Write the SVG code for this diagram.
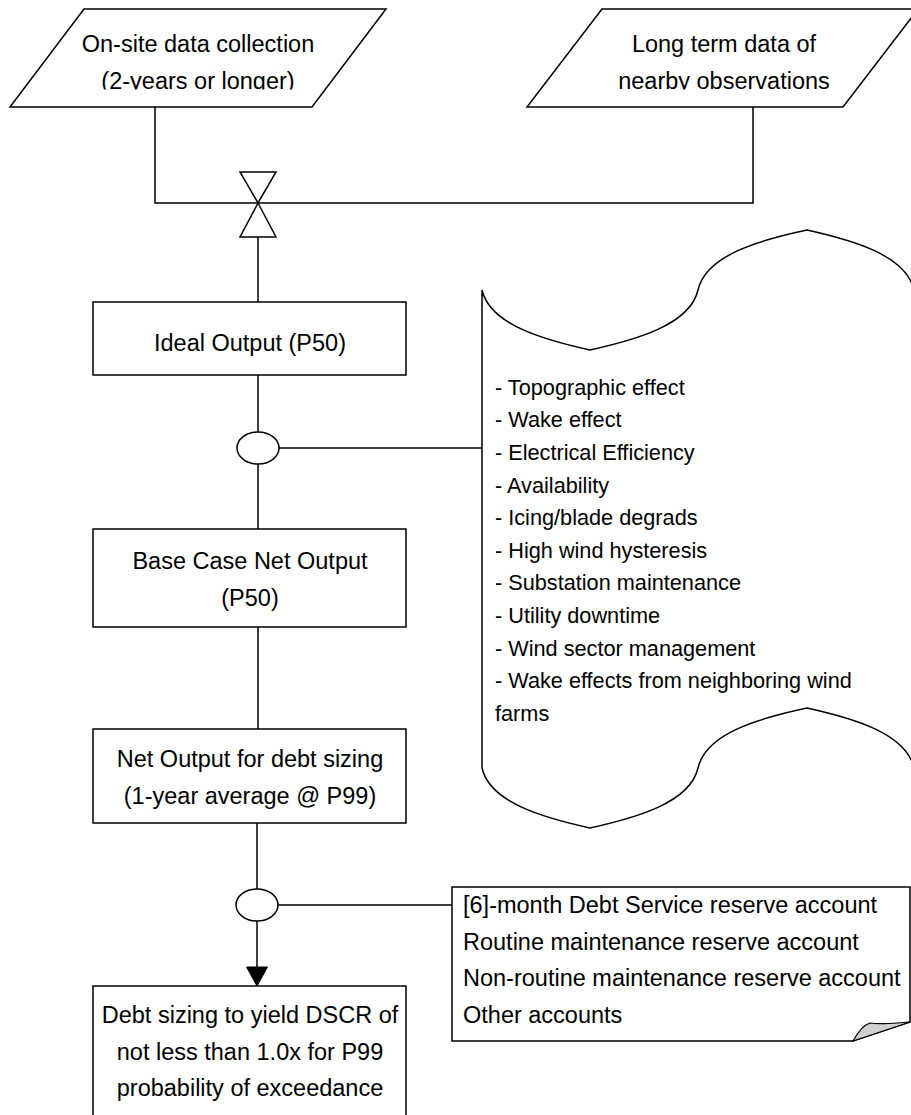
<svg xmlns="http://www.w3.org/2000/svg" width="911" height="1115" viewBox="0 0 911 1115">
<style>
.s{fill:#fff;stroke:#000;stroke-width:1.5}
.c{fill:none;stroke:#000;stroke-width:1.5}
.t{font-family:"Liberation Sans",Arial,sans-serif;font-size:23.5px;fill:#000}
.m{text-anchor:middle}
.l{font-family:"Liberation Sans",Arial,sans-serif;font-size:21.7px;fill:#000}
</style>
<defs>
<clipPath id="clipTop"><rect x="0" y="0" width="911" height="89.5"/></clipPath>
</defs>
<g id="connectors">
<polyline class="c" points="155,107 155,203 753,203 753,107"/>
<line class="c" x1="258" y1="237" x2="258" y2="302"/>
<line class="c" x1="258" y1="375" x2="258" y2="432"/>
<line class="c" x1="279" y1="448" x2="482" y2="448"/>
<line class="c" x1="258" y1="464" x2="258" y2="529"/>
<line class="c" x1="258" y1="627" x2="258" y2="729"/>
<line class="c" x1="257" y1="823" x2="257" y2="889"/>
<line class="c" x1="278" y1="905" x2="452" y2="905"/>
<line class="c" x1="257" y1="921" x2="257" y2="968"/>
<polygon points="246.5,967 267.5,967 257,986" fill="#000" stroke="#000" stroke-width="1"/>
</g>
<g id="onsite">
<polygon class="s" points="84,9 386,9 312,107 10,107"/>
<g clip-path="url(#clipTop)">
<text class="t m" x="198" y="51.7">On-site data collection</text>
<text class="t m" x="198" y="88.5">(2-years or longer)</text>
</g>
</g>
<g id="longterm">
<polygon class="s" points="602,9 918,9 843,107 527,107"/>
<g clip-path="url(#clipTop)">
<text class="t m" x="724" y="51.7">Long term data of</text>
<text class="t m" x="724" y="88.5">nearby observations</text>
</g>
</g>
<g id="merge">
<polygon class="s" points="240,172 276,172 258,203"/>
<polygon class="s" points="258,203 276,237 240,237"/>
</g>
<g id="ideal">
<rect class="s" x="93" y="302" width="313" height="73"/>
<text class="t m" x="250" y="351">Ideal Output (P50)</text>
</g>
<g id="junction1">
<ellipse class="s" cx="258" cy="448" rx="21" ry="16"/>
</g>
<g id="losses">
<path class="s" d="M482,290 C490,325 545,340 590,350 C635,340 690,325 698,290 C706,255 760,240 807,230 C852,240 906,255 914,290 V768 C906,733 852,718 807,708 C760,718 706,733 698,768 C690,803 635,818 590,828 C545,818 490,803 482,768 Z"/>
<text class="l" x="495" y="394.8">- Topographic effect</text>
<text class="l" x="495" y="427.4">- Wake effect</text>
<text class="l" x="495" y="460">- Electrical Efficiency</text>
<text class="l" x="495" y="492.6">- Availability</text>
<text class="l" x="495" y="525.2">- Icing/blade degrads</text>
<text class="l" x="495" y="557.8">- High wind hysteresis</text>
<text class="l" x="495" y="590.4">- Substation maintenance</text>
<text class="l" x="495" y="623">- Utility downtime</text>
<text class="l" x="495" y="655.6">- Wind sector management</text>
<text class="l" x="495" y="688.2">- Wake effects from neighboring wind</text>
<text class="l" x="495" y="720.8">farms</text>
</g>
<g id="basecase">
<rect class="s" x="93" y="529" width="313" height="98"/>
<text class="t m" x="250" y="569.3">Base Case Net Output</text>
<text class="t m" x="250" y="606">(P50)</text>
</g>
<g id="netoutput">
<rect class="s" x="93" y="729" width="313" height="94"/>
<text class="t m" x="250" y="767">Net Output for debt sizing</text>
<text class="t m" x="250" y="803.7">(1-year average @ P99)</text>
</g>
<g id="junction2">
<ellipse class="s" cx="257" cy="905" rx="21" ry="16"/>
</g>
<g id="reserves">
<path class="s" d="M452,887 H910 V1022 L853,1041 H452 Z"/>
<path d="M853,1041 C858,1032 863,1025 870,1023 C880,1025 895,1023 910,1022 Z" fill="#d0d0d0" stroke="#000" stroke-width="1.2"/>
<text class="t" x="463" y="913">[6]-month Debt Service reserve account</text>
<text class="t" x="463" y="949.5">Routine maintenance reserve account</text>
<text class="t" x="463" y="986">Non-routine maintenance reserve account</text>
<text class="t" x="463" y="1022.5">Other accounts</text>
</g>
<g id="debtsizing">
<rect class="s" x="93" y="986" width="313" height="150"/>
<text class="t m" x="250" y="1023">Debt sizing to yield DSCR of</text>
<text class="t m" x="250" y="1059.7">not less than 1.0x for P99</text>
<text class="t m" x="250" y="1096.4">probability of exceedance</text>
</g>
</svg>
